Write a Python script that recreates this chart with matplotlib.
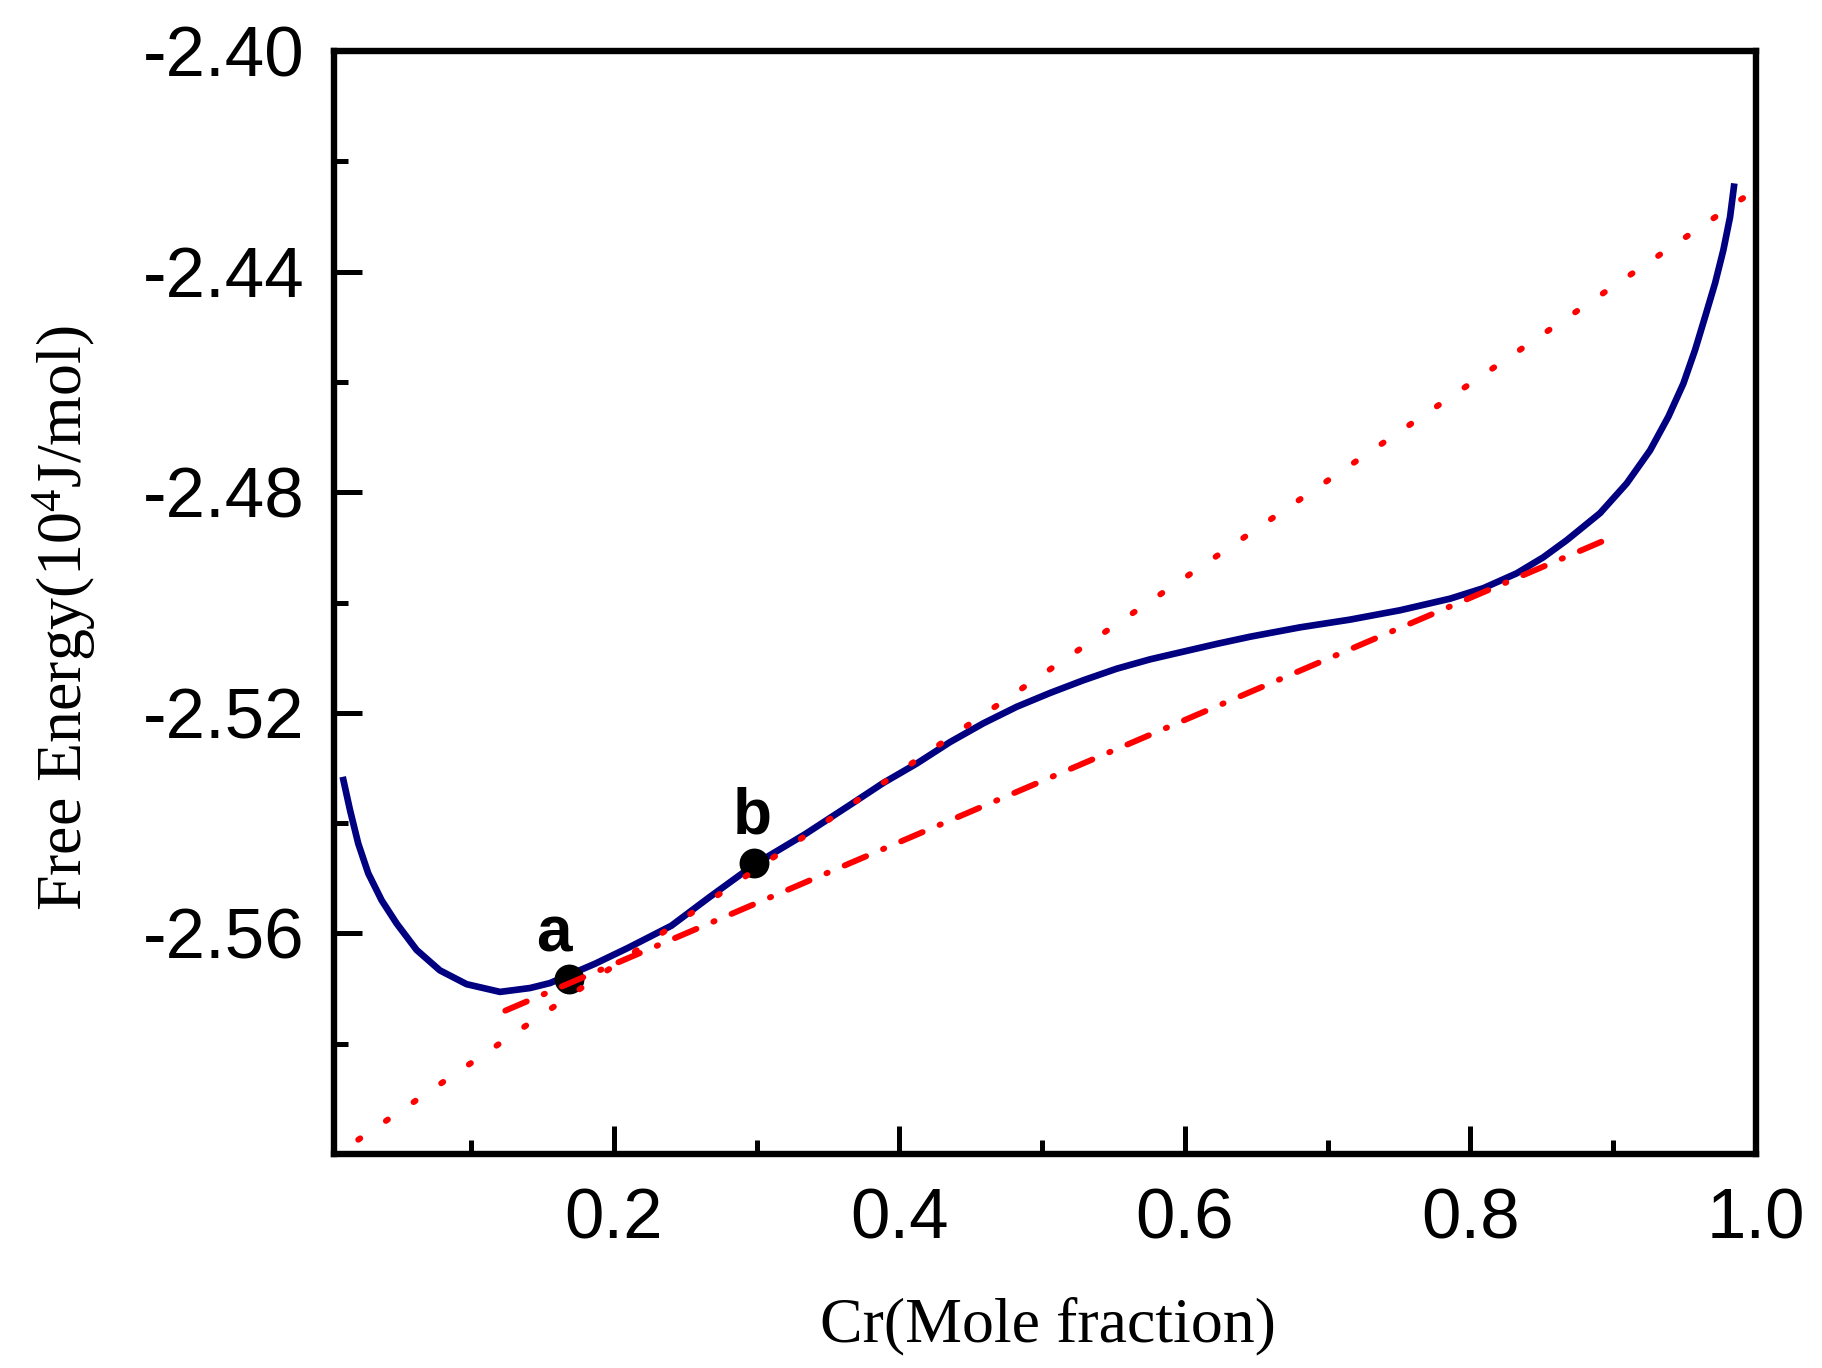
import matplotlib
matplotlib.use('Agg')
import matplotlib.pyplot as plt
from matplotlib.ticker import FixedLocator, FormatStrFormatter

# free energy curve (x = Cr mole fraction, y in 10^4 J/mol)
cr_frac = [0.0101, 0.0152, 0.0210, 0.0280, 0.0374, 0.0479, 0.0619, 0.0782, 0.0969,
           0.1203, 0.1413, 0.1553, 0.1868, 0.2101, 0.2403, 0.2671, 0.2985, 0.3340,
           0.3654, 0.3888, 0.4121, 0.4355, 0.4588, 0.4822, 0.5055, 0.5288, 0.5522,
           0.5756, 0.5989, 0.6223, 0.6456, 0.6806, 0.7156, 0.7507, 0.7857, 0.8090,
           0.8324, 0.8510, 0.8674, 0.8907, 0.9094, 0.9258, 0.9386, 0.9491, 0.9573,
           0.9643, 0.9713, 0.9771, 0.9818, 0.9848]
free_energy = [-2.5316, -2.5376, -2.5437, -2.5491, -2.5540, -2.5582, -2.5630, -2.5667,
               -2.5692, -2.5706, -2.5699, -2.5690, -2.5655, -2.5626, -2.5586, -2.5534,
               -2.5475, -2.5420, -2.5367, -2.5327, -2.5292, -2.5253, -2.5219, -2.5189,
               -2.5164, -2.5141, -2.5120, -2.5103, -2.5089, -2.5075, -2.5062, -2.5045,
               -2.5031, -2.5014, -2.4993, -2.4974, -2.4947, -2.4918, -2.4887, -2.4838,
               -2.4784, -2.4724, -2.4663, -2.4603, -2.4542, -2.4482, -2.4421, -2.4361,
               -2.4301, -2.4240]

# tangent lines
dot_x = [0.021, 0.997]
dot_y = [-2.5974, -2.4256]
dashdot_x = [0.124, 0.896]
dashdot_y = [-2.5740, -2.4885]

# marked points
point_labels = ['a', 'b']
point_x = [0.1683, 0.2985]
point_y = [-2.5682, -2.5473]
label_x = [0.158, 0.297]
label_y = [-2.5632, -2.5418]

x_major = [0.2, 0.4, 0.6, 0.8, 1.0]
x_minor = [0.1, 0.3, 0.5, 0.7, 0.9]
y_major = [-2.56, -2.52, -2.48, -2.44, -2.40]
y_minor = [-2.58, -2.54, -2.50, -2.46, -2.42]

plt.rcParams['axes.unicode_minus'] = False
plt.rcParams['mathtext.fontset'] = 'custom'
plt.rcParams['mathtext.rm'] = 'Liberation Serif'
plt.rcParams['mathtext.it'] = 'Liberation Serif:italic'

fig = plt.figure(figsize=(18.22, 13.68), dpi=100)
ax = fig.add_axes([0.1833, 0.1564, 0.7805, 0.8063])

ax.plot(cr_frac, free_energy, color='#000080', linewidth=4.8, solid_capstyle='butt',
        solid_joinstyle='round', zorder=2)
ax.plot(point_x, point_y, 'o', color='black', markersize=21.5, markeredgewidth=0, zorder=3)

dotted, = ax.plot(dot_x, dot_y, color='#FF0000', linewidth=4.3, zorder=4)
dotted.set_dashes([0.4, 5.2])
dotted.set_dash_capstyle('round')
dashdot, = ax.plot(dashdot_x, dashdot_y, color='#FF0000', linewidth=4.3, zorder=4)
dashdot.set_dashes([3.9, 3.1, 0.2, 3.1])
dashdot.set_dash_capstyle('round')

for lab, lx, ly in zip(point_labels, label_x, label_y):
    ax.text(lx, ly, lab, ha='center', va='baseline', fontsize=46, fontweight='bold',
            family='Liberation Sans', zorder=5)

ax.set_xlim(0.004, 1.0)
ax.set_ylim(-2.60, -2.40)

ax.xaxis.set_major_locator(FixedLocator(x_major))
ax.xaxis.set_minor_locator(FixedLocator(x_minor))
ax.yaxis.set_major_locator(FixedLocator(y_major))
ax.yaxis.set_minor_locator(FixedLocator(y_minor))
ax.xaxis.set_major_formatter(FormatStrFormatter('%.1f'))
ax.yaxis.set_major_formatter(FormatStrFormatter('%.2f'))

ax.tick_params(which='both', direction='in', top=False, right=False, width=3.6)
ax.tick_params(which='major', length=20)
ax.tick_params(which='minor', length=10)
ax.tick_params(axis='x', which='major', pad=24)
ax.tick_params(axis='y', which='major', pad=21)
for lab in ax.get_xticklabels() + ax.get_yticklabels():
    lab.set_fontsize(51)
    lab.set_family('Liberation Sans')

for sp in ax.spines.values():
    sp.set_linewidth(4.6)

ax.set_xlabel('Cr(Mole fraction)', fontsize=46, family='Liberation Serif')
ax.xaxis.label.set_va('center')
ax.xaxis.set_label_coords(0.502, -0.156)
ax.set_ylabel('Free Energy(10$^4$J/mol)', fontsize=46, family='Liberation Serif')
ax.yaxis.label.set_va('center')
ax.yaxis.set_label_coords(-0.19, 0.486)

plt.savefig('out.png', dpi=100, facecolor='white')
plt.close()
